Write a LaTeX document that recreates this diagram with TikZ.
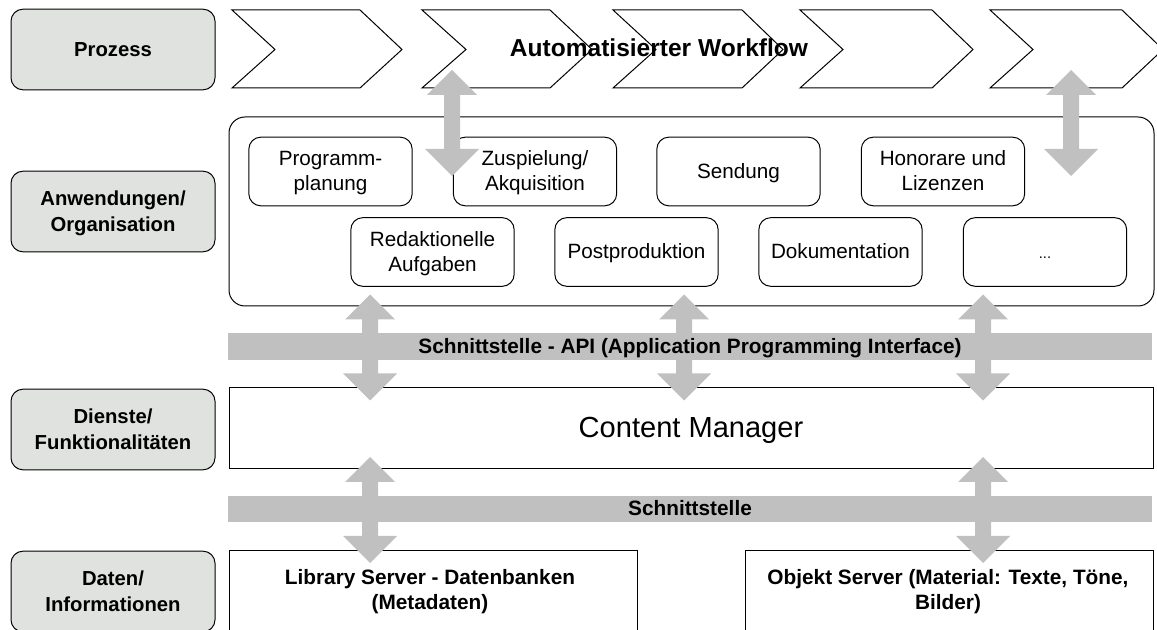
\documentclass[tikz,border=0pt]{standalone}
\usepackage{fontspec}
\setmainfont{Liberation Sans}
\newcommand{\dblarrow}[2]{% x, top y
  \fill[bandgray] (#1,#2) -- (#1+25,#2+25) -- (#1+8,#2+25) -- (#1+8,#2+79) -- (#1+27,#2+79) -- (#1,#2+106) -- (#1-27,#2+79) -- (#1-8,#2+79) -- (#1-8,#2+25) -- (#1-25,#2+25) -- cycle;}
\newcommand{\chev}[4]{% left, notch, shoulder, tip
  \draw[line] (#1,10) -- (#3,10) -- (#4,49.5) -- (#3,88) -- (#1,88) -- (#2,49.5) -- cycle;}
\newcommand{\tlstrut}{\rule[\dimexpr-.3\baselineskip+1.5pt\relax]{0pt}{\baselineskip}}
\newcommand{\tl}[1]{\tlstrut #1\tlstrut}
\definecolor{sidegray}{RGB}{224,226,223}
\definecolor{bandgray}{RGB}{192,192,192}
\tikzset{
  line/.style={draw=black,line width=0.75pt},
  sidebox/.style={line,fill=sidegray,rounded corners=9pt,minimum width=153pt,minimum height=60.5pt,inner sep=0pt,align=center,font=\fontsize{15.2}{19.5}\selectfont\bfseries},
  appbox/.style={line,rounded corners=9pt,minimum width=122.5pt,minimum height=51.5pt,inner sep=0pt,align=center,font=\fontsize{15.5}{18.75}\selectfont},
  plainbox/.style={line,inner sep=0pt,align=center},
  band/.style={fill=bandgray,inner sep=0pt,minimum width=693pt,minimum height=20pt},
  bandlabel/.style={inner sep=0pt,font=\fontsize{15.6}{18}\selectfont\bfseries},
  serverlabel/.style={inner sep=0pt,align=center,font=\fontsize{15.6}{19}\selectfont\bfseries}
}
\begin{document}
\begin{tikzpicture}[x=0.75pt,y=-0.75pt]
\useasboundingbox (0,0) rectangle (1157,630);
\clip (0,0) rectangle (1157,630);
\node[sidebox] (prozess) at (113,49.5) {\tl{Prozess}};
\node[sidebox] (anwendungen) at (113,211.5) {\tl{Anwendungen/}\\\tl{Organisation}};
\node[sidebox] (dienste) at (113,429.5) {\tl{Dienste/}\\\tl{Funktionalitäten}};
\node[sidebox] (daten) at (113,591.5) {\tl{Daten/}\\\tl{Informationen}};
\chev{232}{275}{360}{402}
\chev{422}{466}{550}{592}
\chev{613}{656}{742}{783}
\chev{800}{843}{932}{973}
\chev{990}{1033}{1122}{1163}
\draw[line,rounded corners=12pt] (229,117) rectangle (1154,306);
\node[appbox] (programm) at (330.5,171.5) {\tl{Programm-}\\\tl{planung}};
\node[appbox] (zuspielung) at (535,171.5) {\tl{Zuspielung/}\\\tl{Akquisition}};
\node[appbox] (sendung) at (738.5,171.5) {\tl{Sendung}};
\node[appbox] (honorare) at (943,171.5) {\tl{Honorare und}\\\tl{Lizenzen}};
\node[appbox] (redaktion) at (432.5,252) {\tl{Redaktionelle}\\\tl{Aufgaben}};
\node[appbox] (postprod) at (636.5,252) {\tl{Postproduktion}};
\node[appbox] (doku) at (840.5,252) {\tl{Dokumentation}};
\node[appbox,font=\fontsize{11}{18.75}\selectfont] (dots) at (1045,252) {\tl{...}};
\node[plainbox,minimum width=693pt,minimum height=60.75pt,font=\fontsize{21.8}{26}\selectfont] (content) at (691,428.5) {\tl{Content Manager}};
\node[plainbox,minimum width=306pt,minimum height=70pt] (library) at (433,597) {};
\node[plainbox,minimum width=306pt,minimum height=70pt] (objekt) at (949.5,597) {};
\node[band] (api) at (690,346.5) {};
\node[band] (schnitt) at (690,509) {};
\dblarrow{452}{70}\dblarrow{1071}{70}
\dblarrow{370}{294.5}\dblarrow{684}{294.5}\dblarrow{983}{294.5}
\dblarrow{370}{457}\dblarrow{983}{457}
\node[bandlabel] (apilabel) at (api.center) {\tl{Schnittstelle - API (Application Programming Interface)}};
\node[bandlabel] (schnittlabel) at (schnitt.center) {\tl{Schnittstelle}};
\node[serverlabel] (librarylabel) at (430,590) {\tl{Library Server - Datenbanken}\\\tl{(Metadaten)}};
\node[serverlabel] (objektlabel) at (948,590) {\tl{Objekt Server (Material: Texte, Töne,}\\\tl{Bilder)}};
\node[inner sep=0pt,font=\fontsize{18.4}{22}\selectfont\bfseries] (title) at (659,48) {Automatisierter Workflow};
\end{tikzpicture}
\end{document}
